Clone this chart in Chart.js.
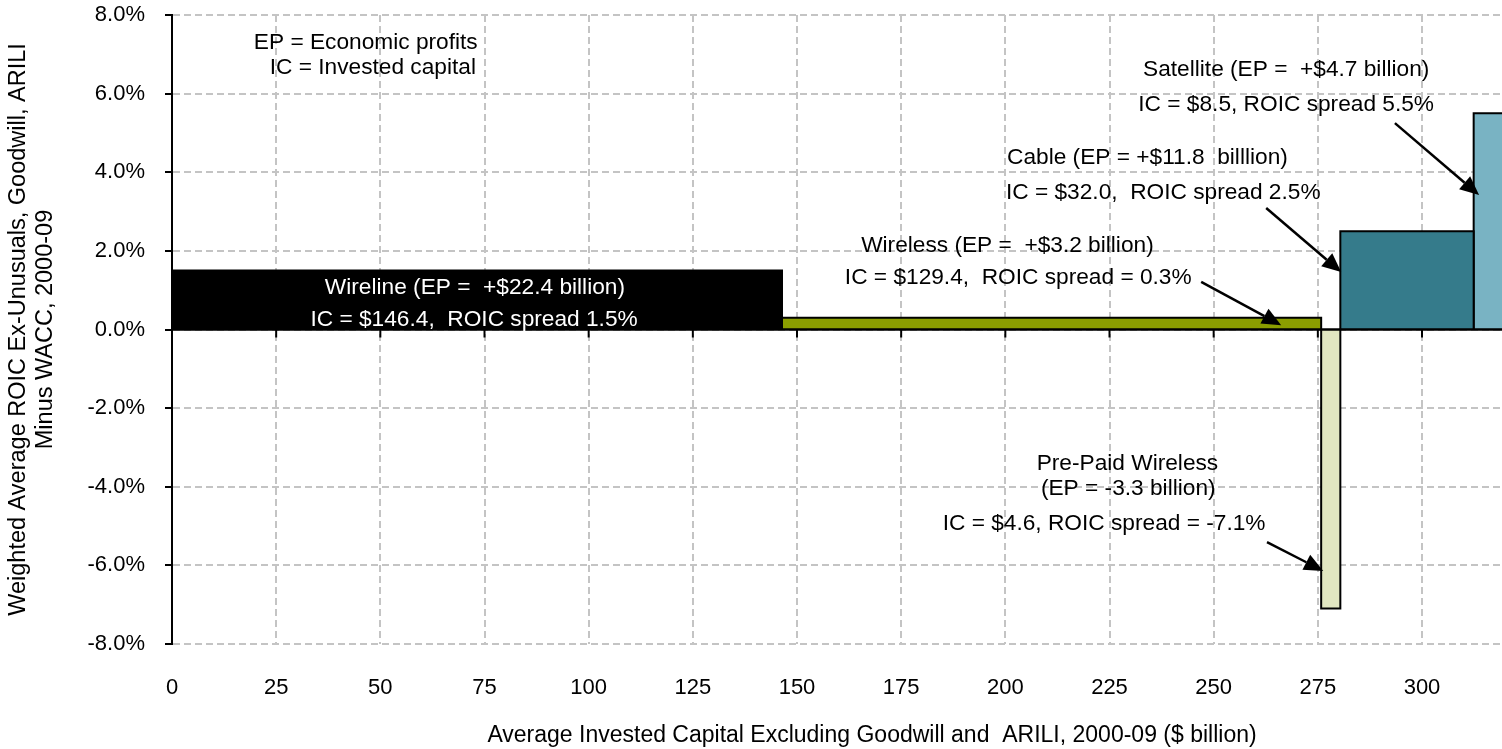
<!DOCTYPE html>
<html>
<head>
<meta charset="utf-8">
<script src="https://cdn.jsdelivr.net/npm/chart.js@4.4.1/dist/chart.umd.min.js"></script>
<style>
  html, body { margin: 0; padding: 0; background: #fff; overflow: hidden; width: 1502px; height: 749px; }
  canvas { display: block; }
</style>
</head>
<body>
<canvas id="roicChart" width="1592" height="749"></canvas>
<script>
/* ── Data ─────────────────────────────────────────── */
const segmentNames    = ['Wireline', 'Wireless', 'Pre-Paid Wireless', 'Cable', 'Satellite'];
const investedCapital = [146.4, 129.4, 4.6, 32.0, 8.5];     // $ billion (bar widths)
const roicSpread      = [1.5, 0.3, -7.1, 2.5, 5.5];         // % (bar heights)
const segmentColors   = ['#000000', '#8b9e00', '#e1e6c1', '#357b8b', '#79b3c3'];

const X_MIN = 0, X_MAX = 336, X_STEP = 25;
const Y_MIN = -8, Y_MAX = 8, Y_STEP = 2;

// text notes: [text, x, y, colour]  (data coordinates)
const notes = [
  ['EP = Economic profits', 46.5, 7.29, '#000'],
  ['IC = Invested capital', 48.2, 6.65, '#000'],
  ['Satellite (EP =  +$4.7 billion)', 267.4, 6.60, '#000'],
  ['IC = $8.5, ROIC spread 5.5%', 267.4, 5.71, '#000'],
  ['Cable (EP = +$11.8  billlion)', 234.1, 4.36, '#000'],
  ['IC = $32.0,  ROIC spread 2.5%', 237.9, 3.47, '#000'],
  ['Wireless (EP =  +$3.2 billion)', 200.5, 2.12, '#000'],
  ['IC = $129.4,  ROIC spread = 0.3%', 203.1, 1.31, '#000'],
  ['Wireline (EP =  +$22.4 billion)', 72.7, 1.06, '#fff'],
  ['IC = $146.4,  ROIC spread 1.5%', 72.5, 0.24, '#fff'],
  ['Pre-Paid Wireless', 229.3, -3.42, '#000'],
  ['(EP = -3.3 billion)', 229.5, -4.06, '#000'],
  ['IC = $4.6, ROIC spread = -7.1%', 223.7, -4.95, '#000'],
];

// arrows: [x1, y1, x2(head), y2(head)]  (data coordinates)
const arrows = [
  [293.5, 5.25, 313.7, 3.42],
  [262.6, 3.09, 280.6, 1.46],
  [247.0, 1.21, 266.2, 0.11],
  [262.8, -5.41, 276.3, -6.14],
];

/* ── Build rectangles as filled step lines ────────── */
let runningStart = 0;
const datasets = segmentNames.map((name, i) => {
  const x0 = runningStart;
  const x1 = runningStart + investedCapital[i];
  runningStart = x1;
  const v = roicSpread[i];
  return {
    label: name,
    data: [{ x: x0, y: 0 }, { x: x0, y: v }, { x: x1, y: v }, { x: x1, y: 0 }],
    backgroundColor: segmentColors[i],
    borderColor: '#000',
    borderWidth: 2,
    borderJoinStyle: 'miter',
    fill: 'origin',
    pointRadius: 0,
    tension: 0,
  };
});

const FONT = '"Liberation Sans", Arial, sans-serif';
Chart.defaults.font.family = FONT;
Chart.defaults.color = '#000';

/* ── Overlay: zero line, notes, arrows ───────────── */
const overlay = {
  id: 'overlay',
  afterDatasetsDraw(chart) {
    const { ctx, chartArea, scales: { x, y } } = chart;
    const y0 = y.getPixelForValue(0);
    ctx.save();
    ctx.strokeStyle = '#000';
    ctx.lineWidth = 2.5;
    ctx.beginPath();
    ctx.moveTo(chartArea.left, y0);
    ctx.lineTo(chartArea.right, y0);
    ctx.stroke();
    // small tick marks under the zero line
    ctx.lineWidth = 2;
    x.ticks.forEach(t => {
      const px = x.getPixelForValue(t.value);
      ctx.beginPath();
      ctx.moveTo(px, y0);
      ctx.lineTo(px, y0 + 8);
      ctx.stroke();
    });

    ctx.font = '22.7px ' + FONT;
    ctx.textAlign = 'center';
    ctx.textBaseline = 'middle';
    notes.forEach(([txt, nx, ny, col]) => {
      ctx.fillStyle = col;
      ctx.fillText(txt, x.getPixelForValue(nx), y.getPixelForValue(ny));
    });

    ctx.fillStyle = '#000';
    ctx.lineWidth = 2.5;
    arrows.forEach(([ax1, ay1, ax2, ay2]) => {
      const p1x = x.getPixelForValue(ax1), p1y = y.getPixelForValue(ay1);
      const p2x = x.getPixelForValue(ax2), p2y = y.getPixelForValue(ay2);
      const ang = Math.atan2(p2y - p1y, p2x - p1x);
      const len = 19, half = 8.5;
      const bx = p2x - len * Math.cos(ang), by = p2y - len * Math.sin(ang);
      ctx.beginPath();
      ctx.moveTo(p1x, p1y);
      ctx.lineTo(bx, by);
      ctx.stroke();
      ctx.beginPath();
      ctx.moveTo(p2x, p2y);
      ctx.lineTo(bx + half * Math.sin(ang), by - half * Math.cos(ang));
      ctx.lineTo(bx - half * Math.sin(ang), by + half * Math.cos(ang));
      ctx.closePath();
      ctx.fill();
    });
    ctx.restore();
  }
};

new Chart(document.getElementById('roicChart'), {
  type: 'line',
  data: { datasets },
  plugins: [overlay],
  options: {
    responsive: false,
    devicePixelRatio: 1,
    animation: false,
    layout: { padding: { top: 15, right: 20, left: 0, bottom: 0 } },
    plugins: { legend: { display: false }, tooltip: { enabled: false } },
    scales: {
      x: {
        type: 'linear',
        min: X_MIN, max: X_MAX,
        afterFit: s => { s.height = 105; },
        afterBuildTicks: s => { s.ticks = s.ticks.filter(t => t.value % X_STEP === 0); },
        ticks: { stepSize: X_STEP, padding: 31, font: { size: 22 }, color: '#000' },
        grid: { color: '#c4c4c4', lineWidth: 2, drawTicks: false },
        border: { display: false, dash: [7, 4] },
        title: {
          display: true,
          text: 'Average Invested Capital Excluding Goodwill and  ARILI, 2000-09 ($ billion)',
          font: { size: 23 }, color: '#000',
          padding: { top: 0, bottom: 0 },
        },
      },
      y: {
        min: Y_MIN, max: Y_MAX,
        afterFit: s => { s.width = 172; s.paddingTop = 0; s.paddingBottom = 0; },
        ticks: {
          stepSize: Y_STEP, padding: 20, font: { size: 22 }, color: '#000',
          callback: v => v.toFixed(1) + '%',
        },
        grid: {
          color: '#c4c4c4', lineWidth: 2,
          drawTicks: true, tickLength: 7, tickColor: '#000', tickWidth: 2, tickBorderDash: [],
        },
        border: { display: true, color: '#000', width: 2, dash: [7, 4] },
        title: {
          display: true,
          text: ['Weighted Average ROIC Ex-Unusuals, Goodwill, ARILI', 'Minus WACC, 2000-09'],
          font: { size: 23.5, lineHeight: 1.15 }, color: '#000',
          padding: { top: 5, bottom: 0 },
        },
      },
    },
  },
});
</script>
</body>
</html>
